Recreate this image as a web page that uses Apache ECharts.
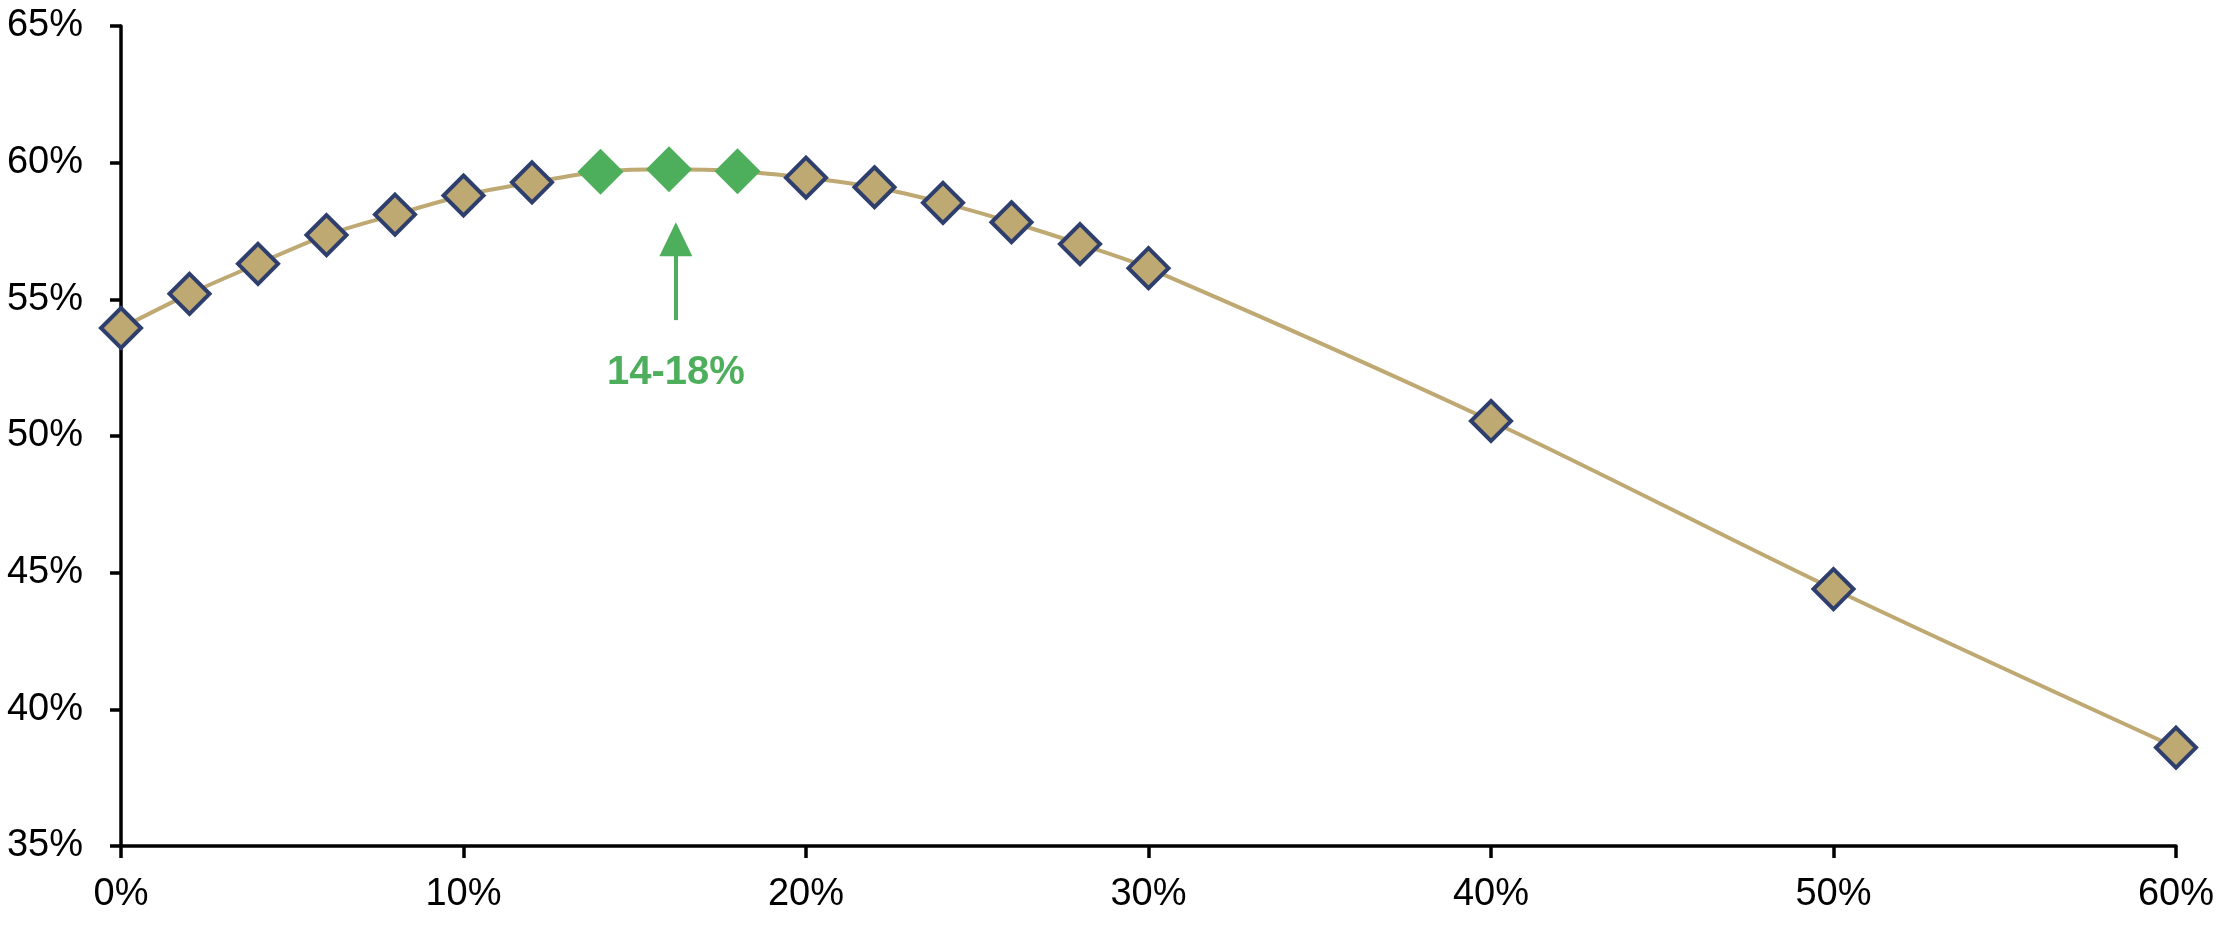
<!DOCTYPE html>
<html>
<head>
<meta charset="utf-8">
<script src="https://cdn.jsdelivr.net/npm/echarts@6/dist/echarts.min.js"></script>
<style>
  html, body { margin: 0; padding: 0; background: #fff; }
  #chart { width: 2224px; height: 932px; }
</style>
</head>
<body>
<div id="chart"></div>
<script>
// x values (%), y values (%)
var xVals = [0, 2, 4, 6, 8, 10, 12, 14, 16, 18, 20, 22, 24, 26, 28, 30, 40, 50, 60];
var yVals = [53.95, 55.2, 56.3, 57.35, 58.1, 58.8, 59.28, 59.67, 59.76, 59.69, 59.45, 59.1, 58.53, 57.82, 57.02, 56.14, 50.55, 44.4, 38.6];
var highlightX = [14, 16, 18];

// annotation arrow (x, y from, y to) and label
var arrowX = 16.2;
var arrowY = [54.24, 57.2];
var arrowLabel = '14-18%';

var tan = '#BFA972';
var navy = '#2E3F6E';
var green = '#4DAE5C';

var seriesData = [];
for (var i = 0; i < xVals.length; i++) {
    var item = { value: [xVals[i], yVals[i]] };
    if (highlightX.indexOf(xVals[i]) >= 0) {
        item.symbolSize = 46;
        item.itemStyle = { color: green, borderWidth: 0 };
    }
    seriesData.push(item);
}

var option = {
    animation: false,
    backgroundColor: '#fff',
    grid: { left: 121, right: 48, top: 26, bottom: 86 },
    xAxis: {
        type: 'value',
        min: 0, max: 60, interval: 10,
        splitLine: { show: false },
        axisLine: { lineStyle: { color: '#000', width: 3.5 } },
        axisTick: { length: 12, lineStyle: { color: '#000', width: 3.5 } },
        axisLabel: {
            formatter: '{value}%', color: '#000', fontSize: 38,
            fontFamily: 'Liberation Sans', margin: 30
        }
    },
    yAxis: {
        type: 'value',
        min: 35, max: 65, interval: 5,
        splitLine: { show: false },
        axisLine: { show: true, lineStyle: { color: '#000', width: 3.5 } },
        axisTick: { show: true, length: 11, lineStyle: { color: '#000', width: 3.5 } },
        axisLabel: {
            formatter: '{value}%', color: '#000', fontSize: 38,
            fontFamily: 'Liberation Sans', margin: 38
        }
    },
    series: [{
        type: 'line',
        smooth: 0.3,
        data: seriesData,
        symbol: 'diamond',
        symbolSize: 40,
        lineStyle: { color: tan, width: 4 },
        itemStyle: { color: tan, borderColor: navy, borderWidth: 4 },
        markLine: {
            silent: true,
            symbol: ['none', 'triangle'],
            symbolSize: [33, 34],
            lineStyle: { color: green, width: 4, type: 'solid' },
            label: {
                show: true, position: 'start', formatter: arrowLabel,
                color: green, fontSize: 40, fontWeight: 'bold',
                fontFamily: 'Liberation Sans', distance: 33
            },
            data: [[
                { coord: [arrowX, arrowY[0]] },
                { coord: [arrowX, arrowY[1]] }
            ]]
        }
    }]
};

var myChart = echarts.init(document.getElementById('chart'));
myChart.setOption(option);
</script>
</body>
</html>
